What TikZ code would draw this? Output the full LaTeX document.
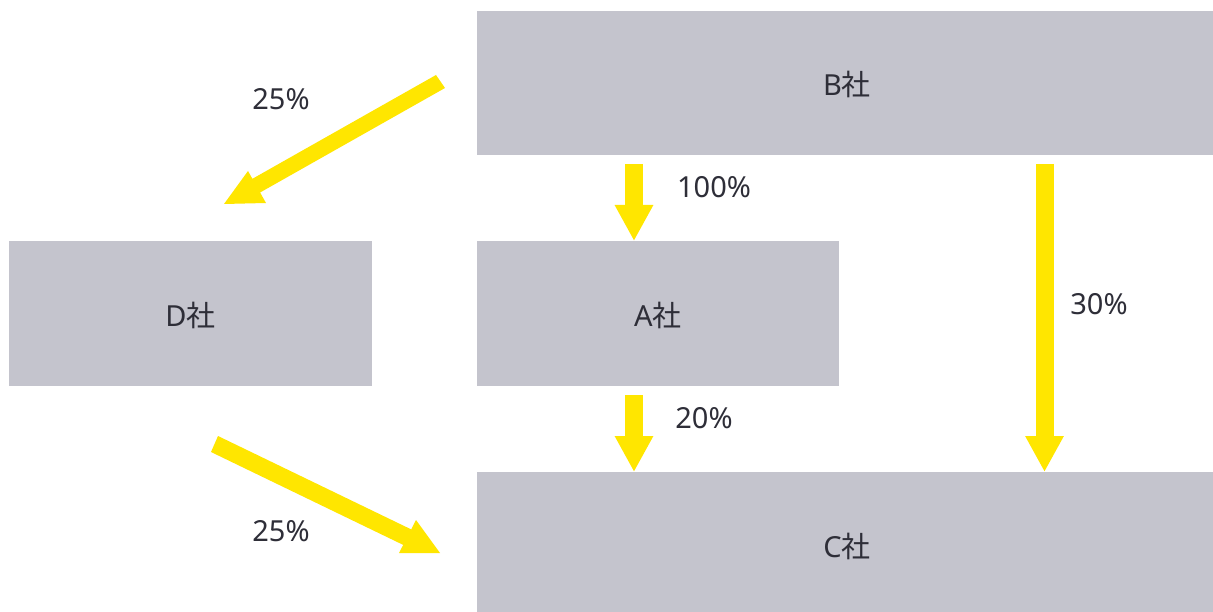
\documentclass[tikz,border=0pt]{standalone}
\usepackage{fontspec}
\setmainfont{Noto Sans}
\newfontfamily\cjkfont{Noto Sans CJK JP}
\usetikzlibrary{arrows.meta}
\definecolor{boxgray}{HTML}{C4C4CD}
\definecolor{eyyellow}{HTML}{FFE600}
\definecolor{inkgray}{HTML}{2E2E38}
\newcommand{\sha}{{\cjkfont 社}}
\tikzset{
  company/.style={fill=boxgray, draw=none, inner sep=0pt},
  companyname/.style={font=\fontsize{29}{34}\selectfont, text=inkgray, inner sep=0pt},
  share/.style={font=\fontsize{29}{34}\selectfont, text=inkgray, inner sep=0pt},
  flow/.style={draw=eyyellow, line width=18pt, -{Triangle[width=36pt,length=36pt]}},
  flowpoly/.style={fill=eyyellow, draw=none}
}
\begin{document}
\begin{tikzpicture}[x=1pt, y=-1pt]
  \useasboundingbox (0,0) rectangle (1213,612);
  \fill[white] (0,0) rectangle (1213,612);

  % companies
  \node[company, minimum width=736pt, minimum height=144pt] (B) at (845,83) {};
  \node[company, minimum width=363pt, minimum height=145pt] (D) at (190.5,313.5) {};
  \node[company, minimum width=362pt, minimum height=145pt] (A) at (658,313.5) {};
  \node[company, minimum width=736pt, minimum height=140pt] (C) at (845,542) {};
  \node[companyname] (nB) at ([shift={(2,1)}]B.center) {B\sha};
  \node[companyname] (nD) at ([shift={(0,1.5)}]D.center) {D\sha};
  \node[companyname] (nA) at ([shift={(0,1.5)}]A.center) {A\sha};
  \node[companyname] (nC) at ([shift={(2,4)}]C.center) {C\sha};

  % shareholding arrows
  \coordinate (bA) at (634,164);
  \coordinate (tA) at (634,241);
  \coordinate (aC) at (634,395);
  \coordinate (tC1) at (634,472);
  \coordinate (bC) at (1044.5,164);
  \coordinate (tC2) at (1044.5,472);
  \draw[flow] (bA) -- (tA);
  \draw[flow] (aC) -- (tC1);
  \draw[flow] (bC) -- (tC2);

  % B -> D
  \fill[flowpoly] (436,75) -- (445,88) -- (260.1,192.5) -- (266,203) -- (224,204)
    -- (248,171) -- (252.4,178.8) -- cycle;
  % D -> C
  \fill[flowpoly] (218,436) -- (411.2,529.4) -- (416,520) -- (440,553) -- (399,553)
    -- (403.2,544.9) -- (211,452) -- cycle;

  % percentages
  \node[share] (pBD) at (281,99) {25\%};
  \node[share] (pBA) at (714,187) {100\%};
  \node[share] (pBC) at (1099,304) {30\%};
  \node[share] (pAC) at (704,418) {20\%};
  \node[share] (pDC) at (281,531) {25\%};
\end{tikzpicture}
\end{document}
